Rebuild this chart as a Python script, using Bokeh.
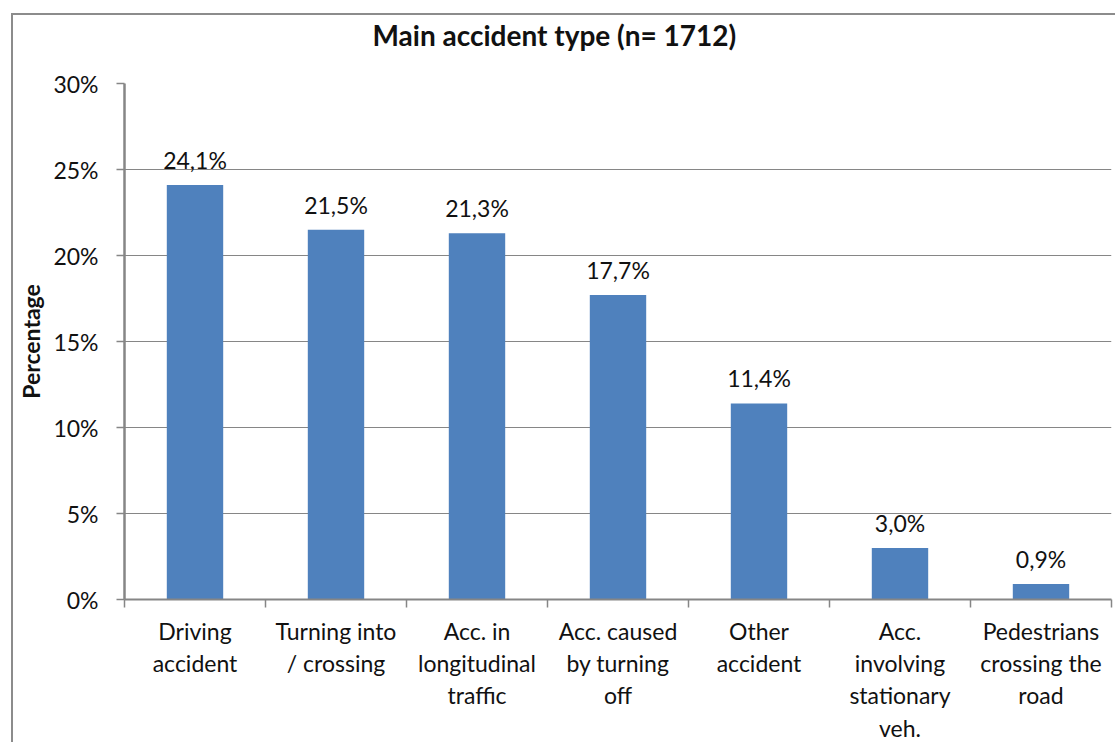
from bokeh.plotting import figure
from bokeh.models import FixedTicker, ColumnDataSource, LabelSet, Range1d, Title
from bokeh.core.properties import value
from bokeh.embed import file_html
from bokeh.resources import INLINE

# ---- data ----
categories = [
    "Driving\naccident",
    "Turning into\n/ crossing",
    "Acc. in\nlongitudinal\ntraffic",
    "Acc. caused\nby turning\noff",
    "Other\naccident",
    "Acc.\ninvolving\nstationary\nveh.",
    "Pedestrians\ncrossing the\nroad",
]
shares = [24.1, 21.5, 21.3, 17.7, 11.4, 3.0, 0.9]
y_ticks = [0, 5, 10, 15, 20, 25, 30]
title_text = "Main accident type (n= 1712)"
y_label = "Percentage"

FONT = "Lato"
GRAY = "#868686"
BLUE = "#4F81BD"
TXT = "#111111"

n = len(categories)
centers = [i + 0.5 for i in range(n)]
labels = [f"{v:.1f}%".replace(".", ",") for v in shares]
src = ColumnDataSource(dict(x=centers, top=shares, label=labels))

p = figure(width=1104, height=729, output_backend="svg", toolbar_location=None,
           x_range=Range1d(0, n), y_range=Range1d(0, 30),
           min_border_left=111, min_border_right=6, min_border_top=67,
           min_border_bottom=145, title=None)
p.outline_line_color = None
p.background_fill_color = "white"
p.border_fill_color = "white"
p.styles = {"margin-left": "11px", "margin-top": "13px",
            "border-left": "2px solid #8c8c8c", "border-top": "2px solid #8c8c8c"}

p.vbar(x="x", top="top", width=0.4, source=src, fill_color=BLUE, line_color=None)

p.add_layout(LabelSet(x="x", y="top", text="label", source=src, y_offset=16,
                      text_align="center", text_baseline="alphabetic",
                      text_font=value(FONT), text_font_size="23px", text_color=TXT))

# y axis
ya = p.yaxis[0]
ya.ticker = FixedTicker(ticks=y_ticks)
ya.major_label_overrides = {t: f"{t}%" for t in y_ticks}
ya.axis_line_color = GRAY
ya.axis_line_width = 2.5
ya.major_tick_line_color = GRAY
ya.major_tick_line_width = 1.5
ya.major_tick_out = 8
ya.major_tick_in = 0
ya.minor_tick_line_color = None
ya.major_label_text_font = FONT
ya.major_label_text_font_size = "23px"
ya.major_label_text_color = TXT
ya.major_label_standoff = 18
ya.axis_label = y_label
ya.axis_label_text_font = FONT
ya.axis_label_text_font_size = "23px"
ya.axis_label_text_font_style = "bold"
ya.axis_label_text_color = TXT
ya.axis_label_standoff = 5

# x axis
xa = p.xaxis[0]
xa.ticker = FixedTicker(ticks=centers, minor_ticks=list(range(n + 1)))
xa.major_label_overrides = {c: cat for c, cat in zip(centers, categories)}
xa.axis_line_color = GRAY
xa.axis_line_width = 2
xa.major_tick_line_color = None
xa.minor_tick_line_color = GRAY
xa.minor_tick_line_width = 1.5
xa.minor_tick_out = 8
xa.minor_tick_in = 0
xa.major_label_text_font = FONT
xa.major_label_text_font_size = "23px"
xa.major_label_text_color = TXT
xa.major_label_text_line_height = 1.16
xa.major_label_standoff = 9

p.xgrid.grid_line_color = None
p.ygrid.grid_line_color = GRAY
p.ygrid.grid_line_width = 1

# spacer between plot area and title, then the title itself
p.add_layout(Title(text=" ", text_font_size="1px", standoff=29), "above")
p.add_layout(Title(text=title_text, align="left", offset=248, standoff=0,
                   text_font=FONT, text_font_size="28px", text_font_style="bold",
                   text_color=TXT), "above")

open("out.html", "w").write(file_html(p, INLINE))
